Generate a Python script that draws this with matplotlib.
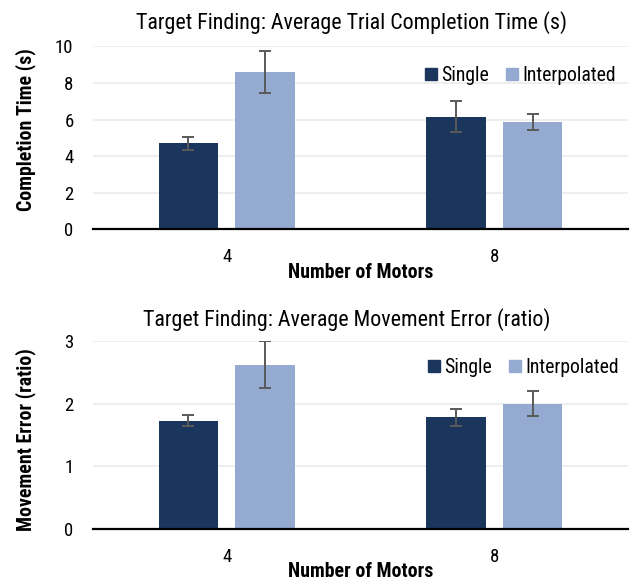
import numpy as np
import matplotlib
matplotlib.use("Agg")
import matplotlib.pyplot as plt
from matplotlib.patches import Patch

# ---------------- data ----------------
categories = ["4", "8"]
series = ["Single", "Interpolated"]

time_single = [4.72, 6.17]
time_single_err = [0.36, 0.84]
time_interp = [8.62, 5.87]
time_interp_err = [1.16, 0.42]

err_single = [1.73, 1.78]
err_single_err = [0.085, 0.135]
err_interp = [2.62, 2.00]
err_interp_err = [0.38, 0.20]

time_ticks = [0, 2, 4, 6, 8, 10]
err_ticks = [0, 1, 2, 3]

# ---------------- style ----------------
plt.rcParams["font.family"] = ["Roboto Condensed", "Liberation Sans", "DejaVu Sans"]

FS_TITLE = 15.8
FS_LABEL = 14.3
FS_TICK = 13.5
FS_LEG = 14.2

C_SINGLE = "#1B365D"
C_INTERP = "#94AAD1"
C_ERR = "#595959"
C_GRID = "#EDEDED"

W, H = 631, 583
fig = plt.figure(figsize=(W / 100, H / 100), dpi=100)


def fx(px):
    return px / W


def fy(py):
    return 1 - py / H


def panel(rect, s_vals, s_err, i_vals, i_err, ticks, ylabel, title,
          title_xy, ylabel_xy, xlabel_y, legend_xy):
    ax = fig.add_axes(rect)
    x = np.arange(len(categories))
    bw = 0.223
    off = 0.1435
    ax.bar(x - off, s_vals, bw, color=C_SINGLE, zorder=2)
    ax.bar(x + off, i_vals, bw, color=C_INTERP, zorder=2)
    for xs, v, e in ((x - off, s_vals, s_err), (x + off, i_vals, i_err)):
        ax.errorbar(xs, v, yerr=e, fmt="none", ecolor=C_ERR, elinewidth=1.4,
                    capsize=4, capthick=1.4, zorder=3)
    ax.set_xlim(-0.5, len(categories) - 0.5)
    ax.set_ylim(ticks[0], ticks[-1])
    ax.set_yticks(ticks)
    ax.set_xticks(x)
    ax.set_xticklabels(categories)
    ax.yaxis.grid(True, color=C_GRID, lw=1.3, zorder=0)
    ax.set_axisbelow(True)
    for sp in ("top", "right", "left"):
        ax.spines[sp].set_visible(False)
    ax.spines["bottom"].set_color("black")
    ax.spines["bottom"].set_linewidth(1.6)
    ax.spines["bottom"].set_zorder(4)
    ax.tick_params(axis="both", length=0, labelsize=FS_TICK, colors="black")
    ax.tick_params(axis="y", pad=14)
    ax.tick_params(axis="x", pad=13.5)
    fig.text(fx(title_xy[0]), fy(title_xy[1]), title, ha="center",
             va="baseline", fontsize=FS_TITLE)
    fig.text(fx(ylabel_xy[0]), fy(ylabel_xy[1]), ylabel, ha="center",
             va="center", rotation=90, fontsize=FS_LABEL, fontweight="bold")
    fig.text(fx(360.5), fy(xlabel_y), "Number of Motors", ha="center",
             va="baseline", fontsize=FS_LABEL, fontweight="bold")
    handles = [Patch(color=C_SINGLE, label=series[0]),
               Patch(color=C_INTERP, label=series[1])]
    ax.legend(handles=handles, loc="center", ncol=2, frameon=False,
              bbox_to_anchor=(fx(legend_xy[0]), fy(legend_xy[1])),
              bbox_transform=fig.transFigure, fontsize=FS_LEG,
              handlelength=0.58, handleheight=0.58, handletextpad=0.22,
              columnspacing=0.9, borderpad=0, borderaxespad=0)
    return ax


panel([fx(93), fy(229.5), fx(628) - fx(93), (229.5 - 46.5) / H],
      time_single, time_single_err, time_interp, time_interp_err,
      time_ticks, "Completion Time (s)",
      "Target Finding: Average Trial Completion Time (s)",
      (352, 29.3), (26, 130), 278, (520.5, 75.5))

panel([fx(93), fy(529.3), fx(628) - fx(93), (529.3 - 340.7) / H],
      err_single, err_single_err, err_interp, err_interp_err,
      err_ticks, "Movement Error (ratio)",
      "Target Finding: Average Movement Error (ratio)",
      (346.5, 326), (26, 440), 577, (523.5, 367.5))

fig.savefig("out.png", dpi=100)
